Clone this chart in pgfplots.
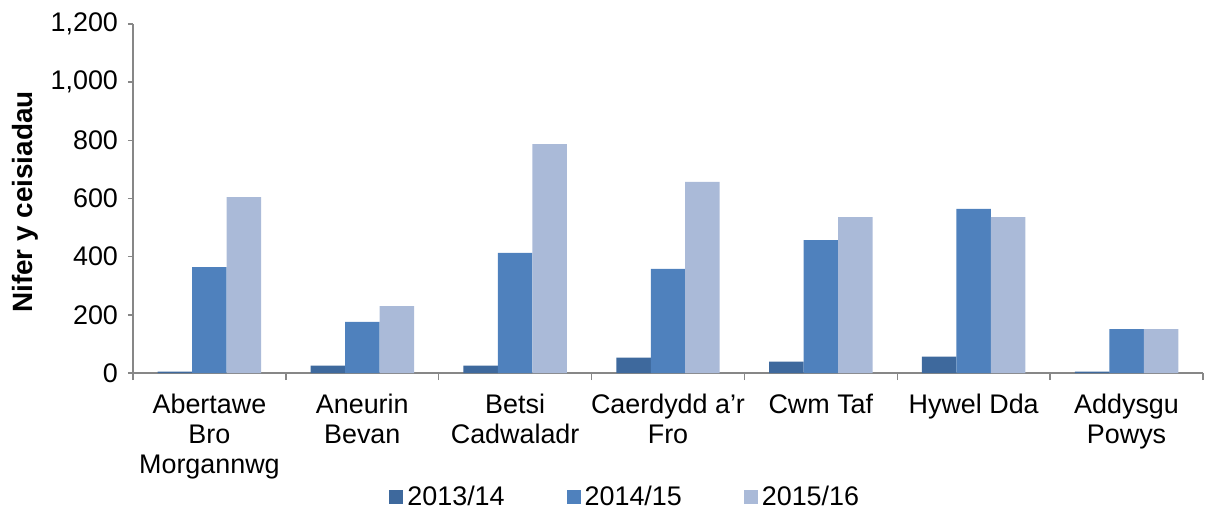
\documentclass[border=0pt]{standalone}
\usepackage{pgfplots}
\pgfplotsset{compat=1.18}
\usepackage{fontspec}
\setmainfont{Liberation Sans}
\definecolor{cA}{HTML}{3E699D}
\definecolor{cB}{HTML}{4F81BD}
\definecolor{cC}{HTML}{AABAD8}
\definecolor{axgray}{HTML}{878787}
\begin{document}
\begin{tikzpicture}
\begin{axis}[
  scale only axis,
  width=535bp, height=174.5bp,
  xmin=-0.5, xmax=6.5,
  ymin=0, ymax=1200,
  axis x line*=bottom, axis y line*=left,
  axis line style={draw=axgray, line width=0.75bp},
  tick style={draw=axgray, line width=0.75bp},
  tick align=outside,
  major tick length=2.5bp,
  minor tick length=3.5bp,
  ytick={0,200,...,1200},
  scaled y ticks=false,
  /pgf/number format/1000 sep={,},
  /pgf/number format/assume math mode=true,
  yticklabel style={font=\fontsize{13.5}{15}\selectfont, xshift=-1.5bp},
  xtick={0,...,6},
  xticklabels={{Abertawe\\Bro\\Morgannwg},{Aneurin\\Bevan},{Betsi\\Cadwaladr},{Caerdydd a’r\\Fro},{Cwm Taf},{Hywel Dda},{Addysgu\\Powys}},
  xticklabel style={align=center, font=\fontsize{13.5}{15}\selectfont, yshift=-4.5bp},
  major x tick style={draw=none},
  minor xtick={-0.5,0.5,...,6.5},
  legend style={at={(0.461,-0.355)}, anchor=center, draw=none, fill=none,
    legend columns=3, font=\fontsize{13.5}{15}\selectfont,
    /tikz/every even column/.append style={column sep=29bp},
    inner sep=0pt},
  legend image code/.code={\fill[#1] (0bp,-3.5bp) rectangle (7bp,3.5bp);},
  clip=false,
]
\addplot[ybar, fill=cA, draw=none, bar width=0.2256, bar shift=-0.2256]
  coordinates {(0,5) (1,25) (2,25) (3,53) (4,39) (5,56) (6,5)};
\addlegendentry{2013/14}
\addplot[ybar, fill=cB, draw=none, bar width=0.2256, bar shift=0]
  coordinates {(0,364) (1,176) (2,413) (3,358) (4,457) (5,564) (6,151)};
\addlegendentry{2014/15}
\addplot[ybar, fill=cC, draw=none, bar width=0.2256, bar shift=0.2256]
  coordinates {(0,605) (1,230) (2,787) (3,657) (4,536) (5,536) (6,151)};
\addlegendentry{2015/16}
\node[rotate=90, anchor=center, font=\bfseries\fontsize{14}{16}\selectfont]
  at ([xshift=-54bp]rel axis cs:0,0.49) {Nifer y ceisiadau};
\coordinate (LL) at (rel axis cs:0,0);
\coordinate (UR) at (rel axis cs:1,1);
\end{axis}
\pgfresetboundingbox
\path[use as bounding box] ([shift={(-66.5bp,-69.5bp)}]LL) rectangle ([shift={(1bp,12bp)}]UR);
\end{tikzpicture}
\end{document}
